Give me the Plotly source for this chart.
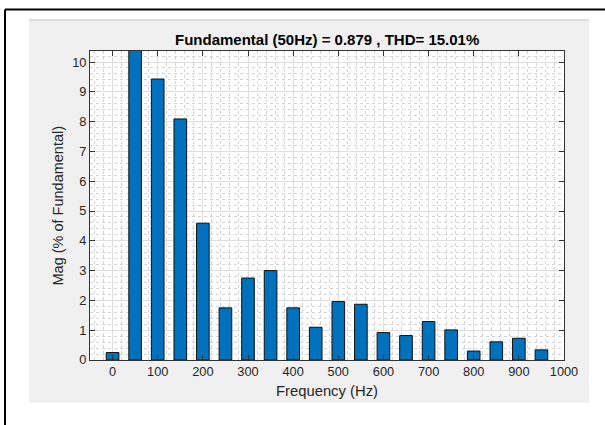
import plotly.graph_objects as go

# ---- data ----
freqs = [0, 50, 100, 150, 200, 250, 300, 350, 400, 450, 500,
         550, 600, 650, 700, 750, 800, 850, 900, 950]
mags = [0.25, 100.0, 9.43, 8.09, 4.59, 1.75, 2.75, 3.0, 1.75, 1.10, 1.96,
        1.87, 0.92, 0.82, 1.29, 1.01, 0.30, 0.61, 0.73, 0.34]
x_ticks = [0, 100, 200, 300, 400, 500, 600, 700, 800, 900, 1000]
y_ticks = [0, 1, 2, 3, 4, 5, 6, 7, 8, 9, 10]
title_text = "Fundamental (50Hz) = 0.879 , THD= 15.01%"
x_label = "Frequency (Hz)"
y_label = "Mag (% of Fundamental)"

W, H = 605, 425
L, R, T, B = 90, 41, 51, 65
PW, PH = W - L - R, H - T - B


def px_x(x):
    return (x - L) / PW


def px_y(y):
    return (H - B - y) / PH


FONT = "Liberation Sans, Arial, Helvetica, sans-serif"

fig = go.Figure()
fig.add_trace(go.Bar(
    x=freqs, y=mags, width=28,
    marker=dict(color="#0072BD", line=dict(color="#111111", width=1)),
    hoverinfo="x+y",
))

shapes = [
    # gray figure panel
    dict(type="rect", xref="paper", yref="paper", layer="below",
         x0=px_x(29), x1=px_x(589), y0=px_y(403), y1=px_y(20),
         fillcolor="#f0f0f0", line=dict(width=0)),
    dict(type="line", xref="paper", yref="paper", layer="below",
         x0=px_x(29), x1=px_x(589), y0=px_y(20), y1=px_y(20),
         line=dict(color="#c4c4c4", width=1)),
    # white axes area
    dict(type="rect", xref="paper", yref="paper", layer="below",
         x0=0, x1=1, y0=0, y1=1, fillcolor="white", line=dict(width=0)),
    # black page border
    dict(type="line", xref="paper", yref="paper",
         x0=px_x(5), x1=px_x(5), y0=px_y(9.5), y1=px_y(430),
         line=dict(color="black", width=2)),
    dict(type="line", xref="paper", yref="paper",
         x0=px_x(5), x1=px_x(610), y0=px_y(9.5), y1=px_y(9.5),
         line=dict(color="black", width=2)),
]

annotations = [
    dict(text=f"<b>{title_text}</b>", xref="paper", yref="paper",
         x=0.5, y=px_y(39), xanchor="center", yanchor="middle",
         showarrow=False, font=dict(family=FONT, size=15, color="black")),
    dict(text=x_label, xref="paper", yref="paper",
         x=0.5, y=px_y(391), xanchor="center", yanchor="middle",
         showarrow=False, font=dict(family=FONT, size=14.8, color="#262626")),
    dict(text=y_label, xref="paper", yref="paper",
         x=px_x(57), y=0.5, xanchor="center", yanchor="middle", textangle=-90,
         showarrow=False, font=dict(family=FONT, size=14.5, color="#262626")),
]

axis_common = dict(
    showline=True, linecolor="#333333", linewidth=1, mirror="ticks",
    ticks="inside", ticklen=5, tickcolor="#333333", tickwidth=1,
    showgrid=True, gridcolor="#dedede", gridwidth=1,
    zeroline=False,
    tickfont=dict(family=FONT, size=12.8, color="#262626"),
)

fig.update_layout(
    width=W, height=H,
    margin=dict(l=L, r=R, t=T, b=B, autoexpand=False),
    paper_bgcolor="white", plot_bgcolor="white",
    showlegend=False,
    shapes=shapes, annotations=annotations,
    xaxis=dict(range=[-50, 1000], tickvals=x_ticks,
               minor=dict(dtick=20, showgrid=True, gridcolor="#d4d4d4",
                          griddash="dot", gridwidth=1, ticks=""),
               **axis_common),
    yaxis=dict(range=[0, 10.37], tickvals=y_ticks,
               minor=dict(dtick=0.2, showgrid=True, gridcolor="#d4d4d4",
                          griddash="dot", gridwidth=1, ticks=""),
               **axis_common),
)

fig.write_html("out.html")
